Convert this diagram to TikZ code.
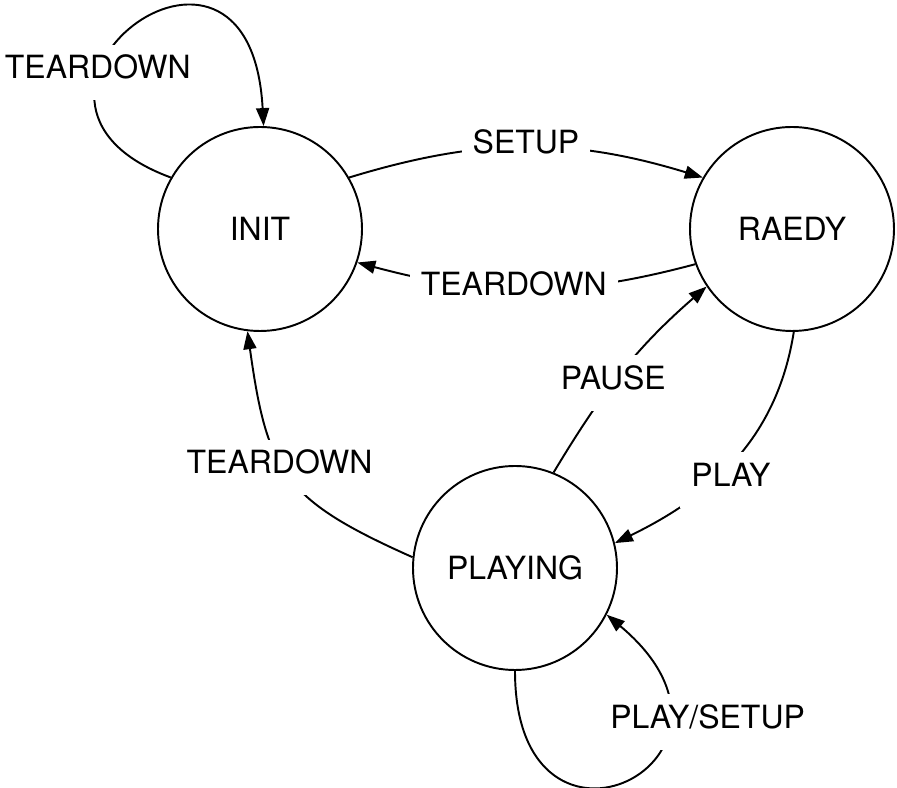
\documentclass[tikz,border=0pt]{standalone}
\usepackage{fontspec}
\setmainfont{TeX Gyre Heros}
\usetikzlibrary{arrows.meta}

\begin{document}
\begin{tikzpicture}[line width=1.1pt, font=\fontsize{18.2}{22}\selectfont,
  state/.style={draw, circle, minimum size=4.08cm, inner sep=0pt},
  trans/.style={-{Triangle[length=3.6mm,width=2.6mm]}},
  lbl/.style={fill=white, inner xsep=2.2mm, inner ysep=4.3mm, text height=0.72em, text depth=0pt}]
\useasboundingbox (0,0) rectangle (17.94,15.76);

% states
\node[state] (init) at (5.2,11.18) {INIT};
\node[state] (raedy) at (15.84,11.18) {RAEDY};
\node[state] (playing) at (10.3,4.4) {PLAYING};

% transitions
\draw[trans] (init.150) .. controls (-0.8,13.76) and (5,18.3) .. node[lbl,pos=0.33,yshift=0.04cm] (lselfinit) {TEARDOWN} (init.88);
\draw[trans] (init.30) to[out=17,in=163] node[lbl] (lsetup) {SETUP} (raedy.150);
\draw[trans] (raedy.200) to[out=195,in=-15] node[lbl,pos=0.54] (lteardown) {TEARDOWN} (init.341);
\draw[trans] (playing.68) to[out=59,in=221] node[lbl,pos=0.44] (lpause) {PAUSE} (raedy.214);
\draw[trans] (raedy.271) to[out=261,in=26] node[lbl,pos=0.58,xshift=0.24cm,yshift=-0.1cm] (lplay) {PLAY} (playing.14);
\draw[trans] (playing.174) to[out=156,in=278,looseness=1.3] node[lbl,pos=0.54,xshift=-0.08cm] (lstop) {TEARDOWN} (init.263);
\draw[trans] (playing.270) .. controls (10.3,-2.04) and (15.6,0.56) .. node[lbl,pos=0.72,xshift=0.86cm,yshift=0.08cm] (lselfplay) {PLAY/SETUP} (playing.333);
\end{tikzpicture}
\end{document}
